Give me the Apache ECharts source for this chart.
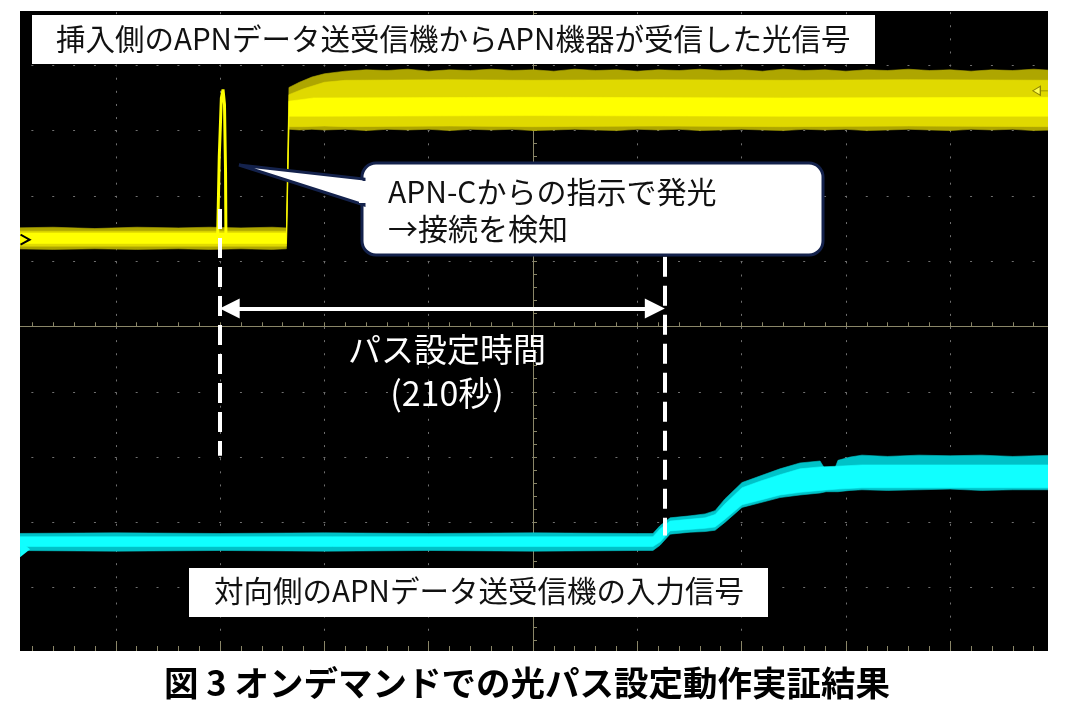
<!DOCTYPE html>
<html>
<head>
<meta charset="utf-8">
<script src="https://cdn.jsdelivr.net/npm/echarts@6/dist/echarts.min.js"></script>
<style>html,body{margin:0;padding:0;background:#fff}#c{width:1065px;height:709px}</style>
</head>
<body>
<div id="c"></div>
<script>
// ===== Data (time in seconds, 50 s/div; level in divisions) =====
const xTicks = { min: -250, max: 250, interval: 50 };
const yTicks = { min: -5, max: 5, interval: 1 };

// Yellow trace (inserted side): [t, low, high] envelopes
const yellowOuter = [
  [-250,1.19,1.51],[-230,1.18,1.52],[-210,1.19,1.50],[-190,1.18,1.52],[-170,1.19,1.51],[-155,1.18,1.52],
  [-140,1.19,1.51],[-125,1.18,1.52],[-118.2,1.19,1.51],
  [-117.0,3.02,3.66],[-112,3.01,3.74],[-106,3.02,3.82],[-100,3.01,3.87],[-90,3.02,3.91],[-80,3.00,3.93],
  [-70,3.02,3.92],[-60,3.01,3.94],[-50,3.02,3.91],[-40,3.00,3.93],[-30,3.02,3.92],[-20,3.01,3.94],
  [-10,3.02,3.92],[0,3.00,3.93],[10,3.01,3.91],[20,3.02,3.94],[30,3.01,3.92],[40,3.00,3.93],
  [50,3.02,3.91],[60,3.01,3.93],[70,3.02,3.92],[80,3.00,3.94],[90,3.01,3.92],[100,3.02,3.93],
  [110,3.01,3.91],[120,3.00,3.94],[130,3.02,3.92],[140,3.01,3.93],[150,3.02,3.91],[160,3.00,3.93],
  [170,3.01,3.92],[180,3.02,3.94],[190,3.01,3.92],[200,3.00,3.93],[210,3.02,3.91],[220,3.01,3.93],
  [230,3.02,3.92],[240,3.00,3.94],[250,3.01,3.92]
];
const yellowMid = [
  [-250,1.23,1.46],[-118.2,1.23,1.46],[-117.0,3.06,3.55],[-110,3.06,3.64],[-100,3.07,3.74],
  [-90,3.06,3.77],[-40,3.07,3.78],[0,3.06,3.77],[60,3.07,3.78],[120,3.06,3.77],[180,3.07,3.78],[250,3.06,3.77]
];
const yellowCore = [
  [-250,1.27,1.43],[-118.2,1.27,1.43],[-117.0,3.22,3.45],[-105,3.22,3.50],[0,3.23,3.51],[120,3.22,3.50],[250,3.22,3.51]
];
const yellowPulse = [
  [-151.2,1.35],[-150.4,2.6],[-149.4,3.5],[-148.6,3.63],[-147.9,3.4],[-147.4,2.4],[-147.2,1.35]
];

// Cyan trace (opposite side): [t, low, high]
const cyanOuter = [
  [-250,-3.43,-3.17],[-200,-3.44,-3.16],[-150,-3.43,-3.17],[-100,-3.44,-3.16],[-50,-3.43,-3.17],
  [0,-3.44,-3.16],[50,-3.43,-3.17],[57.5,-3.43,-3.17],[60.9,-3.35,-3.05],[65.7,-3.18,-2.93],
  [75.3,-3.15,-2.90],[82.5,-3.14,-2.87],[87.3,-3.12,-2.82],[92.0,-3.00,-2.64],[100.2,-2.77,-2.39],
  [108.8,-2.70,-2.29],[118.4,-2.62,-2.18],[128.0,-2.58,-2.09],[137.6,-2.55,-2.06],[140.5,-2.53,-2.21],
  [144.4,-2.53,-2.20],[146.2,-2.53,-2.05],[152.0,-2.51,-2.00],[157.7,-2.50,-1.97],[170,-2.51,-1.99],
  [185,-2.50,-1.97],[200,-2.49,-1.98],[215,-2.51,-1.97],[230,-2.50,-1.99],[250,-2.50,-1.97]
];
const cyanCore = [
  [-250,-3.37,-3.22],[57.5,-3.37,-3.22],[60.9,-3.30,-3.10],[65.7,-3.13,-2.98],[82.5,-3.09,-2.93],
  [87.3,-3.07,-2.88],[92.0,-2.95,-2.72],[100.2,-2.73,-2.47],[108.8,-2.66,-2.37],[118.4,-2.58,-2.27],
  [128.0,-2.54,-2.18],[137.6,-2.51,-2.15],[146.2,-2.49,-2.14],[157.7,-2.47,-2.12],[250,-2.47,-2.12]
];

// Annotation times / levels
const tStart = -150, tEnd = 63;
const dash1 = [1.80, -1.98], dash2 = [1.07, -3.20];
const arrowLevel = 0.274;

// Texts
const topLabel = '挿入側のAPNデータ送受信機からAPN機器が受信した光信号';
const calloutLines = ['APN-Cからの指示で発光', '→接続を検知'];
const spanLabel = ['パス設定時間', '(210秒)'];
const bottomLabel = '対向側のAPNデータ送受信機の入力信号';
const caption = '図 3 オンデマンドでの光パス設定動作実証結果';

// ===== Chart =====
const FONT = '"Noto Sans CJK JP", "Noto Sans", sans-serif';
const C = '#8a8668', G = '#707070';
const chart = echarts.init(document.getElementById('c'), null, { renderer: 'canvas' });

// envelope band drawn as one polygon through the axis scales
function band(name, arr, color) {
  return {
    type: 'custom', name: name, data: arr, silent: true, clip: true,
    encode: { x: 0, y: [1, 2] },
    renderItem: function (params, api) {
      if (params.dataIndex !== 0) return null;
      const upper = arr.map(p => api.coord([p[0], p[2]]));
      const lower = arr.slice().reverse().map(p => api.coord([p[0], p[1]]));
      return {
        type: 'polygon',
        shape: { points: upper.concat(lower) },
        style: { fill: color, stroke: color, lineWidth: 0.6 }
      };
    }
  };
}

function xAx(extra) {
  return Object.assign({
    type: 'value', min: xTicks.min, max: xTicks.max, interval: xTicks.interval,
    axisLabel: { show: false }, splitLine: { show: false },
    axisLine: { show: true, onZero: true, onZeroAxisIndex: 0, lineStyle: { color: C, width: 1 } },
    axisTick: { show: true, inside: true, length: 4, lineStyle: { color: C } },
    minorTick: { show: true, splitNumber: 5, length: 4, lineStyle: { color: C } }
  }, extra);
}
function yAx(extra) {
  return Object.assign({
    type: 'value', min: yTicks.min, max: yTicks.max, interval: yTicks.interval,
    axisLabel: { show: false }, splitLine: { show: false },
    axisLine: { show: true, onZero: true, onZeroAxisIndex: 0, lineStyle: { color: C, width: 1 } },
    axisTick: { show: true, inside: true, length: 4, lineStyle: { color: C } },
    minorTick: { show: true, splitNumber: 5, length: 4, lineStyle: { color: C } }
  }, extra);
}

const series = [
  band('yOuter', yellowOuter, '#aea600'),
  band('yMid', yellowMid, '#e0d900'),
  band('yCore', yellowCore, '#ffff00'),
  band('cOuter', cyanOuter, '#00c2c8'),
  band('cCore', cyanCore, '#10ffff'),
  {
    type: 'line', name: 'pulse', data: yellowPulse, symbol: 'none', silent: true,
    lineStyle: { color: '#ffff00', width: 3 },
    markLine: {
      silent: true, animation: false, label: { show: false },
      data: [
        [{ coord: [tStart, dash1[0]], symbol: 'none', lineStyle: { color: '#fff', width: 4, type: [20, 9] } },
         { coord: [tStart, dash1[1]], symbol: 'none' }],
        [{ coord: [tEnd, dash2[0]], symbol: 'none', lineStyle: { color: '#fff', width: 4, type: [20, 9] } },
         { coord: [tEnd, dash2[1]], symbol: 'none' }],
        [{ coord: [tStart + 4.6, arrowLevel], symbol: 'triangle', symbolSize: [20, 20], lineStyle: { color: '#fff', width: 4, type: 'solid' } },
         { coord: [tEnd - 4.6, arrowLevel], symbol: 'triangle', symbolSize: [20, 20] }]
      ],
      itemStyle: { color: '#fff' }
    },
    markPoint: {
      silent: true, animation: false, label: { show: false },
      data: [
        { coord: [-243.5, 1.33], symbol: 'path://M0,0 L10,5 L0,10', symbolSize: [9, 10],
          itemStyle: { color: 'rgba(0,0,0,0)', borderColor: '#000', borderWidth: 2 } },
        { coord: [-243.5, -3.41], symbol: 'path://M0,0 L10,8 L0,16 Z', symbolSize: [10, 16],
          itemStyle: { color: '#10ffff', borderWidth: 0 } },
        { coord: [243.2, 3.61], symbol: 'path://M0,5 L8,0 L8,10 Z M8,5 L16,5', symbolSize: [15, 9],
          itemStyle: { color: '#ffff50', borderColor: '#8a8200', borderWidth: 1 } }
      ]
    }
  }
];

const white = '#ffffff';
const graphic = [
  // white page margins around the cropped scope screen
  { type: 'rect', z: 100, shape: { x: 0, y: 0, width: 20, height: 709 }, style: { fill: white } },
  { type: 'rect', z: 100, shape: { x: 1048, y: 0, width: 17, height: 709 }, style: { fill: white } },
  { type: 'rect', z: 100, shape: { x: 0, y: 0, width: 1065, height: 11 }, style: { fill: white } },
  { type: 'rect', z: 100, shape: { x: 0, y: 651, width: 1065, height: 58 }, style: { fill: white } },
  // top label
  { type: 'rect', z: 110, shape: { x: 32, y: 15, width: 843, height: 49 }, style: { fill: white } },
  { type: 'text', z: 111, style: { text: topLabel, x: 56, y: 39, font: '29.5px ' + FONT, fill: '#111',
      align: 'left', verticalAlign: 'middle', textAlign: 'left', textVerticalAlign: 'middle' } },
  // callout
  { type: 'rect', z: 110, shape: { x: 362, y: 163, width: 461, height: 92, r: 14 },
    style: { fill: white, stroke: '#14224c', lineWidth: 3 } },
  { type: 'polygon', z: 111, shape: { points: [[239, 165], [364, 179], [364, 205]] },
    style: { fill: white, stroke: '#14224c', lineWidth: 3, lineJoin: 'miter' } },
  { type: 'rect', z: 112, shape: { x: 359, y: 181, width: 8, height: 22 }, style: { fill: white } },
  { type: 'text', z: 113, style: { text: calloutLines[0], x: 388, y: 192, font: '30px ' + FONT, fill: '#111',
      align: 'left', verticalAlign: 'middle', textAlign: 'left', textVerticalAlign: 'middle' } },
  { type: 'text', z: 113, style: { text: calloutLines[1], x: 388, y: 229, font: '30px ' + FONT, fill: '#111',
      align: 'left', verticalAlign: 'middle', textAlign: 'left', textVerticalAlign: 'middle' } },
  // span label
  { type: 'text', z: 110, style: { text: spanLabel[0], x: 447, y: 349, font: '33px ' + FONT, fill: white,
      align: 'center', verticalAlign: 'middle', textAlign: 'center', textVerticalAlign: 'middle' } },
  { type: 'text', z: 110, style: { text: spanLabel[1], x: 447, y: 393, font: '34px ' + FONT, fill: white,
      align: 'center', verticalAlign: 'middle', textAlign: 'center', textVerticalAlign: 'middle' } },
  // bottom label
  { type: 'rect', z: 110, shape: { x: 189, y: 568, width: 579, height: 49 }, style: { fill: white } },
  { type: 'text', z: 111, style: { text: bottomLabel, x: 214, y: 591, font: '29.5px ' + FONT, fill: '#111',
      align: 'left', verticalAlign: 'middle', textAlign: 'left', textVerticalAlign: 'middle' } },
  // caption
  { type: 'text', z: 111, style: { text: caption, x: 527, y: 683, font: 'bold 34.5px ' + FONT, fill: '#000',
      align: 'center', verticalAlign: 'middle', textAlign: 'center', textVerticalAlign: 'middle' } }
];

chart.setOption({
  animation: false,
  backgroundColor: '#ffffff',
  grid: { left: 11.5, right: 10.5, top: -3, bottom: 56, show: true, backgroundColor: '#000', borderWidth: 0, containLabel: false },
  xAxis: [
    xAx({ splitLine: { show: true, lineStyle: { color: G, width: 1, type: [2, 11.12], dashOffset: 1 } } }),
    xAx({ axisTick: { show: true, inside: false, length: 4, lineStyle: { color: C } } }),
    xAx({ position: 'bottom', axisLine: { show: false, onZero: false },
          axisTick: { show: true, inside: true, length: 12, lineStyle: { color: C } },
          minorTick: { show: true, splitNumber: 5, length: 7, lineStyle: { color: C } } })
  ],
  yAxis: [
    yAx({ splitLine: { show: true, lineStyle: { color: G, width: 1, type: [2, 18.86], dashOffset: 1 } } }),
    yAx({ axisTick: { show: true, inside: false, length: 4, lineStyle: { color: C } } })
  ],
  series: series,
  graphic: graphic
});
</script>
</body>
</html>
